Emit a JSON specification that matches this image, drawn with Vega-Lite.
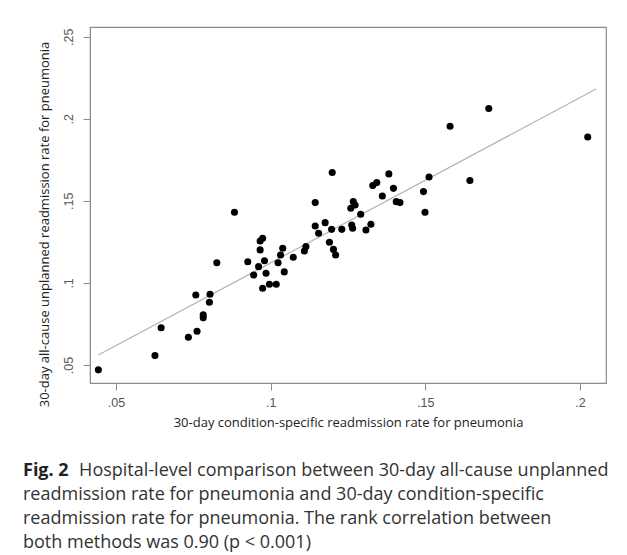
{
  "$schema": "https://vega.github.io/schema/vega-lite/v6.json",
  "width": 516,
  "height": 356,
  "autosize": {"type": "none"},
  "padding": {"left": 90, "top": 27, "right": 21, "bottom": 172},
  "background": "white",
  "config": {
    "view": {"stroke": "#8c8c8c", "strokeWidth": 1.2},
    "font": "Open Sans"
  },
  "datasets": {
    "hospitals": [
      {"condition": 0.0443, "allcause": 0.0470},
      {"condition": 0.0626, "allcause": 0.0557},
      {"condition": 0.0646, "allcause": 0.0727},
      {"condition": 0.0734, "allcause": 0.0669},
      {"condition": 0.0762, "allcause": 0.0705},
      {"condition": 0.0758, "allcause": 0.0926},
      {"condition": 0.0782, "allcause": 0.0805},
      {"condition": 0.0782, "allcause": 0.0787},
      {"condition": 0.0802, "allcause": 0.0882},
      {"condition": 0.0804, "allcause": 0.0931},
      {"condition": 0.0826, "allcause": 0.1123},
      {"condition": 0.0883, "allcause": 0.1430},
      {"condition": 0.0926, "allcause": 0.1129},
      {"condition": 0.0945, "allcause": 0.1048},
      {"condition": 0.0961, "allcause": 0.1099},
      {"condition": 0.0966, "allcause": 0.1201},
      {"condition": 0.0966, "allcause": 0.1255},
      {"condition": 0.0974, "allcause": 0.1272},
      {"condition": 0.0980, "allcause": 0.1135},
      {"condition": 0.0974, "allcause": 0.0967},
      {"condition": 0.0985, "allcause": 0.1059},
      {"condition": 0.0996, "allcause": 0.0992},
      {"condition": 0.1018, "allcause": 0.0992},
      {"condition": 0.1024, "allcause": 0.1123},
      {"condition": 0.1032, "allcause": 0.1170},
      {"condition": 0.1039, "allcause": 0.1211},
      {"condition": 0.1044, "allcause": 0.1067},
      {"condition": 0.1073, "allcause": 0.1156},
      {"condition": 0.1109, "allcause": 0.1194},
      {"condition": 0.1114, "allcause": 0.1221},
      {"condition": 0.1144, "allcause": 0.1489},
      {"condition": 0.1144, "allcause": 0.1347},
      {"condition": 0.1155, "allcause": 0.1302},
      {"condition": 0.1176, "allcause": 0.1367},
      {"condition": 0.1190, "allcause": 0.1248},
      {"condition": 0.1197, "allcause": 0.1326},
      {"condition": 0.1203, "allcause": 0.1204},
      {"condition": 0.1210, "allcause": 0.1170},
      {"condition": 0.1199, "allcause": 0.1672},
      {"condition": 0.1230, "allcause": 0.1326},
      {"condition": 0.1262, "allcause": 0.1353},
      {"condition": 0.1265, "allcause": 0.1333},
      {"condition": 0.1267, "allcause": 0.1495},
      {"condition": 0.1273, "allcause": 0.1475},
      {"condition": 0.1259, "allcause": 0.1455},
      {"condition": 0.1291, "allcause": 0.1418},
      {"condition": 0.1308, "allcause": 0.1322},
      {"condition": 0.1324, "allcause": 0.1357},
      {"condition": 0.1330, "allcause": 0.1593},
      {"condition": 0.1343, "allcause": 0.1611},
      {"condition": 0.1361, "allcause": 0.1529},
      {"condition": 0.1382, "allcause": 0.1664},
      {"condition": 0.1397, "allcause": 0.1576},
      {"condition": 0.1406, "allcause": 0.1495},
      {"condition": 0.1418, "allcause": 0.1489},
      {"condition": 0.1494, "allcause": 0.1556},
      {"condition": 0.1499, "allcause": 0.1430},
      {"condition": 0.1512, "allcause": 0.1645},
      {"condition": 0.1580, "allcause": 0.1954},
      {"condition": 0.1644, "allcause": 0.1624},
      {"condition": 0.1705, "allcause": 0.2062},
      {"condition": 0.2025, "allcause": 0.1889}
    ],
    "fit": [
      {"condition": 0.0443, "allcause": 0.0561},
      {"condition": 0.2052, "allcause": 0.2181}
    ]
  },
  "title": {
    "text": "Fig. 2",
    "subtitle": [
      "\u200b\u00a0\u00a0\u00a0\u00a0\u00a0\u00a0\u00a0\u00a0\u00a0\u00a0\u00a0\u00a0Hospital-level comparison between 30-day all-cause unplanned",
      "readmission rate for pneumonia and 30-day condition-specific",
      "readmission rate for pneumonia. The rank correlation between",
      "both methods was 0.90 (p < 0.001)"
    ],
    "orient": "bottom",
    "anchor": "start",
    "frame": "group",
    "dx": -67,
    "offset": 32,
    "font": "Open Sans",
    "fontSize": 18,
    "fontWeight": "bold",
    "color": "#222222",
    "subtitleFont": "Open Sans",
    "subtitleFontSize": 18,
    "subtitleColor": "#333333",
    "subtitlePadding": -18,
    "subtitleLineHeight": 24
  },
  "encoding": {
    "x": {
      "field": "condition",
      "type": "quantitative",
      "scale": {"domain": [0.0416, 0.2084], "nice": false, "zero": false},
      "axis": {
        "title": "30-day condition-specific readmission rate for pneumonia",
        "values": [0.05, 0.1, 0.15, 0.2],
        "labelExpr": "replace(toString(datum.value), '0.', '.')",
        "grid": false,
        "domainColor": "#8c8c8c",
        "tickColor": "#8c8c8c",
        "tickSize": 7,
        "labelColor": "#555555",
        "labelFont": "Liberation Sans",
        "labelFontSize": 12.5,
        "labelPadding": 6,
        "titleFont": "Open Sans",
        "titleFontSize": 13,
        "titleFontWeight": "normal",
        "titleColor": "#222222",
        "titlePadding": 8
      }
    },
    "y": {
      "field": "allcause",
      "type": "quantitative",
      "scale": {"domain": [0.039, 0.2559], "nice": false, "zero": false},
      "axis": {
        "title": "30-day all-cause unplanned readmission rate for pneumonia",
        "values": [0.05, 0.1, 0.15, 0.2, 0.25],
        "labelExpr": "replace(toString(datum.value), '0.', '.')",
        "grid": false,
        "domainColor": "#8c8c8c",
        "tickColor": "#8c8c8c",
        "tickSize": 7,
        "labelAngle": -90,
        "labelAlign": "center",
        "labelBaseline": "alphabetic",
        "labelColor": "#555555",
        "labelFont": "Liberation Sans",
        "labelFontSize": 12.5,
        "labelPadding": 11,
        "titleFont": "Open Sans",
        "titleFontSize": 13,
        "titleFontWeight": "normal",
        "titleColor": "#222222",
        "titlePadding": 11,
        "titleY": 197
      }
    }
  },
  "layer": [
    {
      "data": {"name": "fit"},
      "mark": {"type": "line", "color": "#b4b4b4", "strokeWidth": 1.2}
    },
    {
      "data": {"name": "hospitals"},
      "mark": {"type": "circle", "size": 50, "color": "black", "opacity": 1}
    }
  ]
}
